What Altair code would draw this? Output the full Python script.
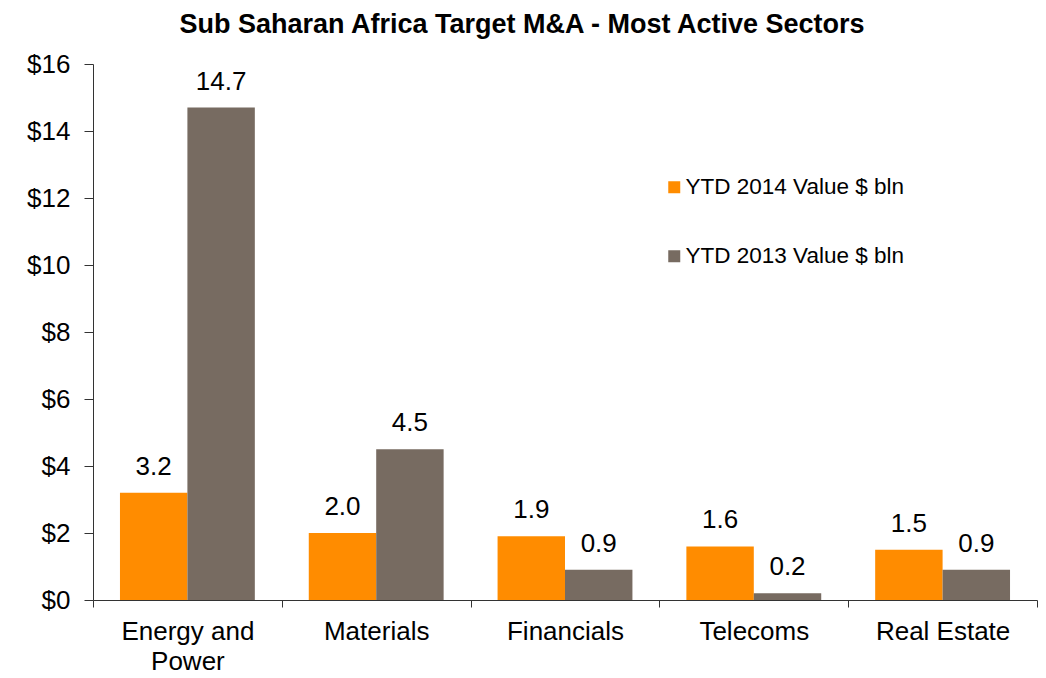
import altair as alt
import pandas as pd

categories = ["Energy and Power", "Materials", "Financials", "Telecoms", "Real Estate"]
series = ["YTD 2014 Value $ bln", "YTD 2013 Value $ bln"]
values_2014 = [3.2, 2.0, 1.9, 1.6, 1.5]
values_2013 = [14.7, 4.5, 0.9, 0.2, 0.9]
y_ticks = [0, 2, 4, 6, 8, 10, 12, 14, 16]
colors = ["#FF8C00", "#776B61"]

rows = []
for c, a, b in zip(categories, values_2014, values_2013):
    rows.append({"sector": c, "series": series[0], "value": a})
    rows.append({"sector": c, "series": series[1], "value": b})
df = pd.DataFrame(rows)

FONT = "Liberation Sans"
AXIS_COLOR = "#333333"

x = alt.X(
    "sector:N", sort=categories, title=None,
    scale=alt.Scale(paddingInner=0, paddingOuter=0),
    axis=alt.Axis(
        tickBand="extent",
        labelExpr="datum.label == 'Energy and Power' ? ['Energy and', 'Power'] : datum.label",
        labelFontSize=26, labelFont=FONT, labelColor="black", labelLineHeight=30,
        labelPadding=11, tickSize=7, domainColor=AXIS_COLOR, tickColor=AXIS_COLOR,
        labelAngle=0, labelLimit=400,
    ),
)
xo = alt.XOffset("series:N", sort=series, scale=alt.Scale(paddingInner=0, paddingOuter=0.4))
y = alt.Y(
    "value:Q", title=None, scale=alt.Scale(domain=[0, 16], nice=False),
    axis=alt.Axis(
        values=y_ticks, labelExpr="'$' + datum.value", grid=False,
        labelFontSize=26, labelFont=FONT, labelColor="black", labelPadding=14,
        tickSize=9, domainColor=AXIS_COLOR, tickColor=AXIS_COLOR,
    ),
)

bars = alt.Chart(df).mark_bar().encode(
    x=x, xOffset=xo, y=y,
    color=alt.Color(
        "series:N", sort=series,
        scale=alt.Scale(domain=series, range=colors),
        legend=alt.Legend(
            title=None, orient="none", legendX=570, legendY=112,
            symbolType="square", symbolSize=144, symbolStrokeWidth=0,
            labelFontSize=22.5, labelFont=FONT, labelColor="black",
            rowPadding=46, labelOffset=0, labelLimit=400, symbolOpacity=1,
        ),
    ),
)

labels = alt.Chart(df).mark_text(
    fontSize=26, font=FONT, baseline="alphabetic", dy=-18, color="black"
).encode(
    x=x, xOffset=xo, y=y,
    text=alt.Text("value:Q", format=".1f"),
)

chart = alt.layer(bars, labels).properties(
    width=944, height=536,
    autosize=alt.AutoSizeParams(type="none"),
    padding={"left": 85, "top": 56, "right": 1, "bottom": 76},
    title=alt.TitleParams(
        text="Sub Saharan Africa Target M&A - Most Active Sectors",
        font=FONT, fontSize=27, fontWeight="bold", color="black",
        anchor="middle", frame="group", dx=-43, offset=-9, baseline="alphabetic",
    ),
    background="white",
).configure_view(stroke=None)

chart.save("out.html", embed_options={"renderer": "svg", "actions": False})
